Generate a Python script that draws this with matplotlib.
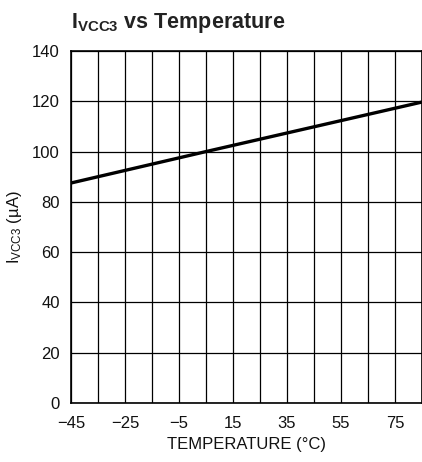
import matplotlib
matplotlib.use("Agg")
import matplotlib.pyplot as plt

temperature = [-45, 5, 85]
current_ua = [87.5, 100.0, 119.7]
x_ticks = [-45, -25, -5, 15, 35, 55, 75]
x_grid = list(range(-45, 86, 10))
y_ticks = [0, 20, 40, 60, 80, 100, 120, 140]

fam = ['Liberation Sans', 'DejaVu Sans']
plt.rcParams['font.family'] = fam
plt.rcParams['mathtext.fontset'] = 'custom'
plt.rcParams['mathtext.rm'] = 'Liberation Sans'
plt.rcParams['mathtext.bf'] = 'Liberation Sans:bold'
plt.rcParams['axes.unicode_minus'] = True

fig = plt.figure(figsize=(4.22, 4.62), dpi=100)
ax = fig.add_axes([71/422, 59/462, 351/422, 352/462])

ax.plot(temperature, current_ua, color='black', lw=2.4, solid_capstyle='butt', zorder=3)
ax.set_xlim(-45, 85)
ax.set_ylim(0, 140)
ax.set_xticks(x_grid)
ax.set_xticklabels([f"{t}".replace('-', '\u2212') if t in x_ticks else '' for t in x_grid])
ax.set_yticks(y_ticks)
ax.grid(True, color='black', lw=0.9)
ax.tick_params(length=0, labelsize=12, colors='#111111')
ax.tick_params(axis='y', pad=8)
ax.tick_params(axis='x', pad=9)
for s in ax.spines.values():
    s.set_color('black')
    s.set_linewidth(1.2)

ax.set_xlabel('TEMPERATURE (°C)', fontsize=12, color='#111111', labelpad=5)
ax.set_ylabel(r'$\mathregular{I_{VCC3}}$ (µA)', fontsize=12, color='#111111', labelpad=6)

fig.text(71/422, 1 - 28/462, r'$\mathbf{I_{VCC3}}$ vs Temperature', fontsize=15.5,
         fontweight='bold', color='#222222', ha='left', va='baseline')

fig.savefig('out.png', dpi=100)
